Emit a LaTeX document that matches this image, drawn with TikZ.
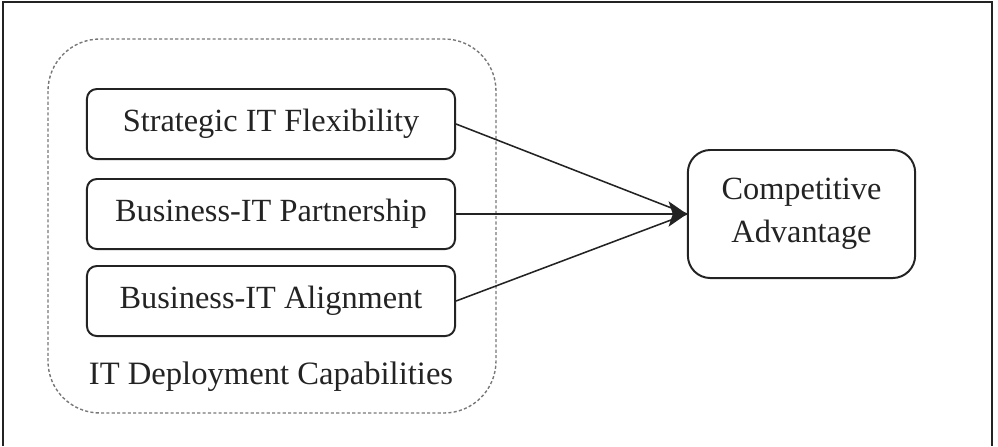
\documentclass[tikz,border=0pt]{standalone}
\usepackage{fontspec}
\setmainfont{Liberation Serif}
\usepackage{tikz}
\usetikzlibrary{arrows.meta,positioning}
\definecolor{mInk}{RGB}{35,35,35}
\definecolor{mDash}{RGB}{120,120,120}

\begin{document}
\begin{tikzpicture}[x=0.0125cm, y=-0.0125cm,
    capbox/.style={draw=mInk, line width=0.7pt, rounded corners=3.5pt,
      minimum width=4.6cm, minimum height=0.875cm, inner sep=0pt,
      text=mInk, font=\fontsize{11.5}{15.3}\selectfont},
    link/.style={draw=mInk, line width=0.55pt}]
    \useasboundingbox (0,0) rectangle (998,446);

    % outer frame (open at the bottom)
    \draw[mInk, line width=0.9pt] (3,446) -- (3,2) -- (992,2) -- (992,446);

    % capabilities group
    \draw[mDash, line width=0.5pt, dash pattern=on 1.1pt off 0.8pt,
      rounded corners=0.65cm] (48,39) rectangle (496,413);
    \node[text=mInk, font=\fontsize{11.6}{14}\selectfont] (grp) at (271,377)
      {IT Deployment Capabilities};

    \node[capbox] (flex)  at (271,124) {Strategic IT Flexibility};
    \node[capbox] (part)  at (271,214) {Business-IT Partnership};
    \node[capbox] (align) at (271,301) {Business-IT Alignment};

    % outcome
    \node[capbox, minimum width=2.84cm, minimum height=1.6cm,
      rounded corners=8pt, align=center] (comp) at (801.5,214)
      {Competitive\\Advantage};

    % paths into the outcome
    \draw[link] (flex.east) -- (comp.west);
    \draw[link] (align.east) -- (comp.west);
    \draw[link, -{Stealth[length=6.5pt, width=9pt, inset=1.5pt]}]
      (part.east) -- (comp.west);
  \end{tikzpicture}
\end{document}
